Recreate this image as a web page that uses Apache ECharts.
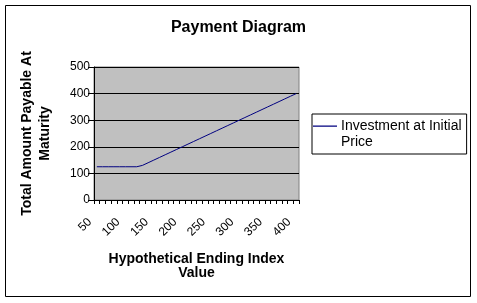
<!DOCTYPE html>
<html>
<head>
<meta charset="utf-8">
<script src="https://cdn.jsdelivr.net/npm/echarts@6/dist/echarts.min.js"></script>
<style>
html,body{margin:0;padding:0;background:#fff;}
#chart{width:477px;height:303px;}
</style>
</head>
<body>
<div id="chart"></div>
<script>
// Data
var categories = [50,60,70,80,90,100,110,120,130,140,150,160,170,180,190,200,210,220,230,240,250,260,270,280,290,300,310,320,330,340,350,360,370,380,390,400];
var payment = [125,125,125,125,125,125,125,125,130,140,150,160,170,180,190,200,210,220,230,240,250,260,270,280,290,300,310,320,330,340,350,360,370,380,390,400];
var yTicks = [0,100,200,300,400,500];
var seriesName = 'Investment at Initial Price';

var FONT = '"Liberation Sans", Arial, sans-serif';
var chart = echarts.init(document.getElementById('chart'), null, {renderer: 'canvas'});
chart.setOption({
  animation: false,
  backgroundColor: '#ffffff',
  title: {
    text: 'Payment Diagram',
    left: 'center',
    top: 20,
    padding: 0,
    textStyle: {fontFamily: FONT, fontSize: 16, fontWeight: 'bold', color: '#000'}
  },
  graphic: [{
    type: 'rect',
    shape: {x: 5.5, y: 5.5, width: 465, height: 291},
    style: {fill: 'none', stroke: '#000', lineWidth: 1},
    silent: true,
    z: -1
  }],
  legend: {
    left: 312,
    top: 114,
    orient: 'vertical',
    padding: [4, 5, 4, 1],
    borderColor: '#000',
    borderWidth: 1,
    itemWidth: 24,
    itemHeight: 32,
    icon: 'path://M0,0H24V0.01H0Z M0,7.5H24V8.7H0Z M0,31.99H24V32H0Z',
    formatter: function () { return 'Investment at Initial\nPrice'; },
    textStyle: {fontFamily: FONT, fontSize: 14, color: '#000', lineHeight: 16, padding: [0,0,0,-1]},
    data: [seriesName]
  },
  grid: {
    left: 94, right: 178, top: 67, bottom: 103,
    show: true,
    backgroundColor: '#c0c0c0',
    borderColor: '#808080',
    borderWidth: 1
  },
  xAxis: {
    type: 'category',
    data: categories,
    boundaryGap: true,
    name: 'Hypothetical Ending Index\nValue',
    nameLocation: 'middle',
    nameGap: 52,
    nameTextStyle: {fontFamily: FONT, fontSize: 14, fontWeight: 'bold', color: '#000', lineHeight: 14},
    axisLine: {lineStyle: {color: '#000', width: 1}},
    axisTick: {show: true, interval: 0, length: 4, lineStyle: {color: '#000'}},
    axisLabel: {interval: 4, rotate: 45, margin: 13, padding: [0, 10, 0, 0], fontFamily: FONT, fontSize: 12, color: '#000'},
    splitLine: {show: false}
  },
  yAxis: {
    type: 'value',
    min: yTicks[0],
    max: yTicks[yTicks.length - 1],
    interval: 100,
    name: 'Total Amount Payable At\nMaturity',
    nameLocation: 'middle',
    nameGap: 40,
    nameTextStyle: {fontFamily: FONT, fontSize: 14, fontWeight: 'bold', color: '#000', lineHeight: 18},
    axisLine: {show: true, lineStyle: {color: '#000', width: 1}},
    axisTick: {show: true, length: 6, lineStyle: {color: '#000'}},
    axisLabel: {margin: 4, fontFamily: FONT, fontSize: 12, color: '#000'},
    splitLine: {show: true, lineStyle: {color: '#000', width: 1}}
  },
  series: [{
    name: seriesName,
    type: 'line',
    data: payment,
    symbol: 'none',
    color: '#000080',
    itemStyle: {color: '#000080'},
    lineStyle: {color: '#000080', width: 1}
  }]
});
</script>
</body>
</html>
